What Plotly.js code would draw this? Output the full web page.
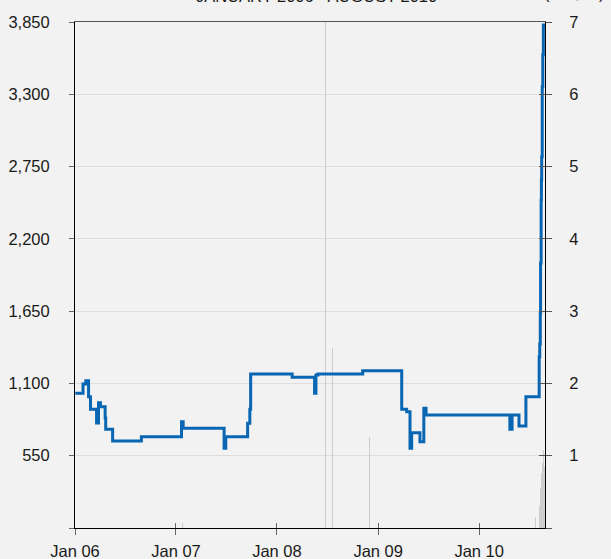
<!DOCTYPE html>
<html>
<head>
<meta charset="utf-8">
<script src="https://cdn.plot.ly/plotly-3.0.1.min.js"></script>
<style>html,body{margin:0;padding:0;background:#f2f2f2;}#chart{width:611px;height:559px;}</style>
</head>
<body>
<div id="chart"></div>
<script>
// Price series (left axis), step changes
var priceDates = ['2006-01-02','2006-01-30','2006-02-09','2006-02-19','2006-02-26','2006-03-20','2006-03-27','2006-04-03','2006-04-20','2006-04-22','2006-05-17','2006-08-29','2007-01-21','2007-01-27','2007-06-24','2007-06-30','2007-09-17','2007-09-25','2007-09-28','2008-02-25','2008-05-16','2008-05-21','2008-05-28','2008-11-06','2009-03-27','2009-04-14','2009-04-26','2009-05-02','2009-06-01','2009-06-15','2009-06-23','2010-04-22','2010-04-30','2010-05-25','2010-06-19','2010-08-06','2010-08-08','2010-08-10','2010-08-11','2010-08-13','2010-08-14','2010-08-15','2010-08-17','2010-08-19','2010-08-21','2010-08-27'];
var priceValues = [1025,1096,1121,999,903,799,953,922,837,751,662,695,809,759,606,695,797,903,1172,1147,1025,1164,1172,1197,903,885,606,725,657,911,860,751,860,776,999,1303,1400,1634,2016,2496,2650,2825,3358,3600,3827,3835];

// Volume-like thin bars (right axis)
var volDates = ['2007-01-24','2008-06-24','2008-07-19','2008-08-23','2008-11-30','2009-12-17','2010-02-27','2010-07-24','2010-08-08','2010-08-11','2010-08-13','2010-08-16','2010-08-19','2010-08-22','2010-08-24'];
var volValues = [0.07,9,2.49,0.05,1.26,0.09,9,0.15,0.3,0.55,0.76,1.18,0.9,1.08,0.85];

// Tick labels
var leftTickVals = [0,550,1100,1650,2200,2750,3300,3850];
var leftTickText = ['','550','1,100','1,650','2,200','2,750','3,300','3,850'];
var rightTickVals = [0,1,2,3,4,5,6,7];
var rightTickText = ['','1','2','3','4','5','6','7'];
var xRange = ['2006-01-01','2010-08-27'];
var titleText = 'JANUARY 2006 - AUGUST 2010';
var unitText = '(US$/lb)';

var DAY = 86400000;
var traces = [
  {type:'bar', x: volDates, y: volValues, xaxis:'x', yaxis:'y',
   width: volDates.map(function(){return 3*DAY;}),
   marker:{color:'#cdcdcd', line:{width:0}}, hoverinfo:'skip'},
  {type:'scatter', mode:'lines', x: priceDates, y: priceValues, xaxis:'x', yaxis:'y2',
   line:{color:'#0866b3', width:3, shape:'hv'}},
  {type:'scatter', mode:'lines', x: [], y: [], xaxis:'x2', yaxis:'y3', hoverinfo:'skip'},
  {type:'scatter', mode:'lines', x: [], y: [], xaxis:'x3', yaxis:'y', hoverinfo:'skip'}
];

var font = {family:'Liberation Sans, Arial, sans-serif', size:16.5, color:'#1a1a1a'};
var layout = {
  width:611, height:559,
  margin:{l:75, r:66, t:22, b:31, pad:0},
  paper_bgcolor:'#f2f2f2', plot_bgcolor:'#f2f2f2',
  showlegend:false, bargap:0,
  font: font,
  xaxis:{type:'date', range:xRange, dtick:'M12', tick0:'2006-01-01', tickformat:'%b %y',
         ticks:'outside', ticklen:6, tickwidth:1, tickcolor:'#666',
         showline:true, linecolor:'#000', linewidth:1, showgrid:false, zeroline:false,
         ticklabelstandoff:2, tickfont:font},
  xaxis2:{type:'date', range:xRange, overlaying:'x', side:'top', anchor:'y',
          showline:true, linecolor:'#555', linewidth:1, ticks:'', showticklabels:false,
          showgrid:false, zeroline:false},
  xaxis3:{type:'date', range:xRange, overlaying:'x', side:'bottom', anchor:'y',
          dtick:'M12', tick0:'2006-01-01', ticks:'inside', ticklen:5, tickcolor:'#666',
          showticklabels:false, showgrid:false, showline:false, zeroline:false},
  yaxis:{range:[0,7], side:'right', tickvals:rightTickVals, ticktext:rightTickText,
         ticks:'outside', ticklen:6, tickcolor:'#555', showgrid:true, gridcolor:'#dddddd',
         showline:true, linecolor:'#000', linewidth:1, zeroline:false,
         ticklabelstandoff:14, tickfont:font},
  yaxis2:{range:[0,3850], side:'left', overlaying:'y', tickvals:leftTickVals, ticktext:leftTickText,
          ticks:'outside', ticklen:5, tickcolor:'#666', showgrid:false,
          showline:true, linecolor:'#000', linewidth:1, zeroline:false,
          ticklabelstandoff:16, tickfont:font},
  yaxis3:{range:[0,7], side:'right', overlaying:'y', tickvals:rightTickVals,
          ticks:'inside', ticklen:6, tickcolor:'#555', showticklabels:false,
          showgrid:false, showline:false, zeroline:false},
  annotations:[
    {text:titleText, xref:'paper', yref:'paper', x:0.513, y:1, xanchor:'center', yanchor:'bottom',
     yshift:15, showarrow:false, font:{family:font.family, size:16.5, color:'#1a1a1a'}},
    {text:unitText, xref:'paper', yref:'paper', x:1.063, y:1, xanchor:'center', yanchor:'bottom',
     yshift:18, showarrow:false, font:{family:font.family, size:16.5, color:'#1a1a1a'}}
  ]
};
Plotly.newPlot('chart', traces, layout, {displayModeBar:false, staticPlot:true});
</script>
</body>
</html>
